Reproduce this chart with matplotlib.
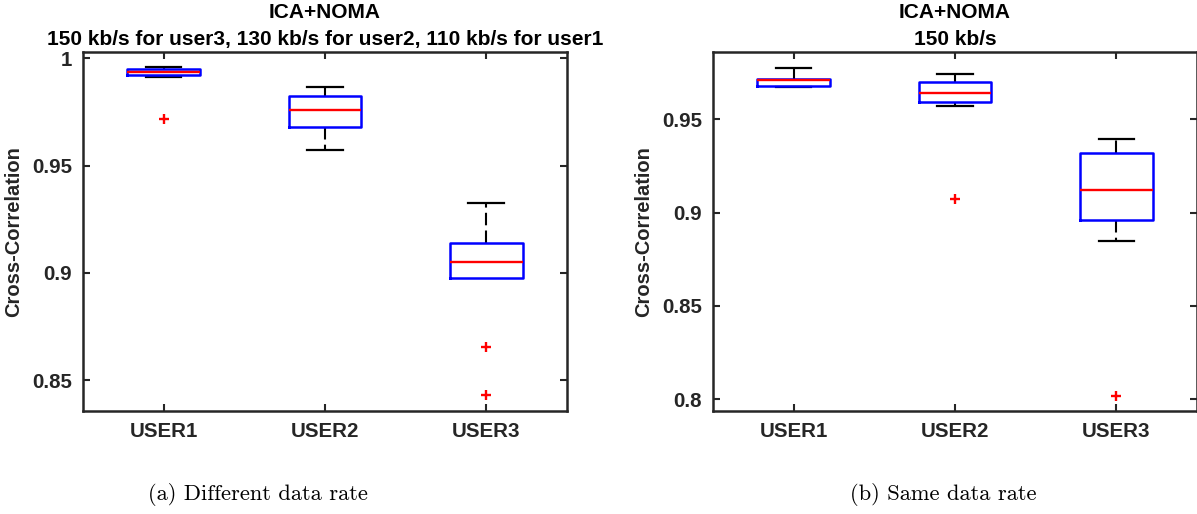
import matplotlib.pyplot as plt

users = ['USER1', 'USER2', 'USER3']

# (a) different data rate
diff_lo = [0.9911, 0.9572, 0.8975]
diff_q1 = [0.9922, 0.9680, 0.8975]
diff_med = [0.9936, 0.9760, 0.9051]
diff_q3 = [0.9950, 0.9826, 0.9140]
diff_hi = [0.9958, 0.9865, 0.9328]
diff_out = [[0.9717], [], [0.8657, 0.8430]]

# (b) same data rate
same_lo = [0.9670, 0.9573, 0.8847]
same_q1 = [0.9677, 0.9591, 0.8958]
same_med = [0.9709, 0.9639, 0.9121]
same_q3 = [0.9718, 0.9702, 0.9319]
same_hi = [0.9774, 0.9743, 0.9394]
same_out = [[], [0.9071], [0.8019]]

plt.rcParams['font.family'] = ['Liberation Sans', 'DejaVu Sans']
plt.rcParams['font.weight'] = 'bold'
dark = '#262626'

def make_stats(lo, q1, med, q3, hi, out):
    stats = []
    for i in range(len(users)):
        stats.append(dict(whislo=lo[i], q1=q1[i], med=med[i], q3=q3[i],
                          whishi=hi[i], fliers=out[i], label=users[i]))
    return stats

def draw(ax, stats, ylim, yticks, yticklabels, title):
    r = ax.bxp(stats, positions=[1, 2, 3], widths=0.45, capwidths=0.22,
               boxprops=dict(color='blue', linewidth=1.8),
               medianprops=dict(color='red', linewidth=1.7),
               whiskerprops=dict(color='black', linewidth=1.5, linestyle=(0, (6, 2.5))),
               capprops=dict(color='black', linewidth=1.6),
               flierprops=dict(marker='+', markeredgecolor='red', markersize=7,
                               markeredgewidth=1.7))
    # box drawn over whiskers/caps like matlab
    for c in r['caps'] + r['whiskers']:
        c.set_zorder(1.5)
    for b in r['boxes']:
        b.set_zorder(3)
    for m in r['medians']:
        m.set_zorder(4)
    # no cap where the whisker has zero length
    for i, st in enumerate(stats):
        if st['whislo'] >= st['q1']:
            r['caps'][2 * i].set_visible(False)
        if st['whishi'] <= st['q3']:
            r['caps'][2 * i + 1].set_visible(False)
    ax.set_xlim(0.5, 3.5)
    ax.set_ylim(*ylim)
    ax.set_yticks(yticks)
    ax.set_yticklabels(yticklabels)
    ax.set_xticks([1, 2, 3])
    ax.set_xticklabels(users)
    ax.tick_params(direction='in', length=5, width=1.5, colors=dark,
                   labelsize=14.8, top=True, right=True, pad=8)
    for s in ax.spines.values():
        s.set_linewidth(1.8)
        s.set_color(dark)
    ax.set_ylabel('Cross-Correlation', fontsize=14.5, fontweight='bold',
                  color=dark, labelpad=6)
    ax.set_title(title, fontsize=15, fontweight='bold', color='black',
                 pad=5, linespacing=1.55)

fig = plt.figure(figsize=(11.97, 5.14), dpi=100)
ax1 = fig.add_axes([0.0693, 0.2004, 0.4043, 0.6984])
ax2 = fig.add_axes([0.5957, 0.2004, 0.4043, 0.6984])

draw(ax1, make_stats(diff_lo, diff_q1, diff_med, diff_q3, diff_hi, diff_out),
     (0.8357, 1.0029), [0.85, 0.9, 0.95, 1.0], ['0.85', '0.9', '0.95', '1'],
     'ICA+NOMA\n150 kb/s for user3, 130 kb/s for user2, 110 kb/s for user1')
draw(ax2, make_stats(same_lo, same_q1, same_med, same_q3, same_hi, same_out),
     (0.7937, 0.986), [0.8, 0.85, 0.9, 0.95], ['0.8', '0.85', '0.9', '0.95'],
     'ICA+NOMA\n150 kb/s')

fig.text(258 / 1197, 1 - 495 / 514, '(a) Different data rate', family='cmr10',
         fontweight='normal', fontsize=16.2, ha='center', va='center')
fig.text(943 / 1197, 1 - 495 / 514, '(b) Same data rate', family='cmr10',
         fontweight='normal', fontsize=16.2, ha='center', va='center')

fig.savefig('out.png', dpi=100)
